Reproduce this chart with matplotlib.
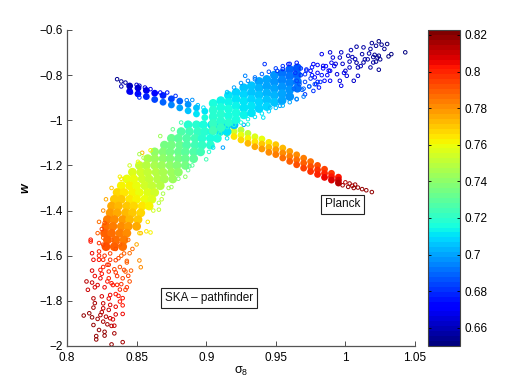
import matplotlib
matplotlib.use("Agg")
import matplotlib.pyplot as plt
import matplotlib.cm as cm
import matplotlib.colors as mcolors

plt.rcParams['font.family'] = ['Liberation Sans', 'DejaVu Sans']

x_ticks = [0.8, 0.85, 0.9, 0.95, 1, 1.05]
x_labels = ['0.8', '0.85', '0.9', '0.95', '1', '1.05']
y_ticks = [-0.6, -0.8, -1, -1.2, -1.4, -1.6, -1.8, -2]
y_labels = ['\u22120.6', '\u22120.8', '\u22121', '\u22121.2', '\u22121.4', '\u22121.6', '\u22121.8', '\u22122']
cb_ticks = [0.66, 0.68, 0.7, 0.72, 0.74, 0.76, 0.78, 0.8, 0.82]
cb_labels = ['0.66', '0.68', '0.7', '0.72', '0.74', '0.76', '0.78', '0.8', '0.82']

# Planck branch: dense part
planck_core_s = [.845,.845,.851,.851,.857,.857,.863,.863,.869,.869,.875,.875,.881,.881,.887,.887,.893,.893,.899,.899,.905,.905,
    .91,.91,.91,.915,.915,.915,.92,.92,.92,.925,.925,.925,.93,.93,.93,.935,.935,.935,.94,.94,.94,.945,.945,.945,
    .95,.95,.95,.955,.955,.955,.96,.96,.96,.965,.965,.965,.97,.97,.97,.975,.975,.975,.98,.98,.98,
    .985,.985,.985,.99,.99,.99,.995,.995,.995]
planck_core_w = [-.848,-.872,-.857,-.883,-.868,-.895,-.88,-.908,-.89,-.92,-.905,-.932,-.915,-.945,-.93,-.958,-.945,-.972,-.96,-.988,-.975,-1.0,
    -1.0,-1.02,-1.04,-1.013,-1.035,-1.057,-1.028,-1.05,-1.072,-1.043,-1.065,-1.087,-1.058,-1.08,-1.102,-1.073,-1.095,-1.117,-1.083,-1.105,-1.127,-1.098,-1.12,-1.142,
    -1.108,-1.13,-1.152,-1.123,-1.145,-1.167,-1.138,-1.16,-1.182,-1.153,-1.175,-1.197,-1.168,-1.19,-1.212,-1.183,-1.205,-1.227,-1.2,-1.22,-1.24,
    -1.217,-1.235,-1.253,-1.235,-1.25,-1.265,-1.252,-1.265,-1.278]
planck_core_om = [.662,.668,.665,.672,.668,.678,.672,.684,.678,.690,.684,.695,.690,.700,.697,.704,.704,.710,.710,.716,.716,.722,
    .735,.74,.75,.742,.752,.762,.745,.755,.765,.748,.758,.768,.752,.762,.772,.756,.766,.775,.76,.77,.778,.765,.773,.781,
    .77,.777,.784,.773,.78,.786,.777,.783,.789,.78,.786,.792,.784,.789,.795,.787,.793,.798,.791,.796,.801,
    .795,.80,.805,.798,.803,.808,.803,.808,.812]

# Planck branch: loose points
planck_s = [.836,.839,.842,.839,.845,.845,.85,.852,.856,.846,.851,.852,.86,.867,.872,.878,.886,.89,.894,.898,
    1.0,1.003,1.005,1.002,1.007,1.009,1.012,1.015,1.019,1.006,.998]
planck_w = [-.818,-.828,-.833,-.85,-.845,-.855,-.843,-.847,-.855,-.877,-.884,-.899,-.862,-.877,-.877,-.892,-.911,-.91,-.933,-.944,
    -1.275,-1.28,-1.29,-1.295,-1.285,-1.298,-1.305,-1.31,-1.318,-1.3,-1.288]
planck_om = [.655,.655,.658,.66,.66,.66,.662,.662,.664,.672,.675,.68,.668,.672,.675,.682,.695,.698,.705,.71,
    .814,.815,.817,.818,.817,.82,.82,.82,.82,.82,.816]

# SKA pathfinder, lower arm: dense part
low_core_s = [.887,.893,.898,.904,.909,.915,.920,
    .882,.888,.894,.899,.904,.910,.915,
    .875,.880,.886,.892,.897,.903,.908,
    .870,.875,.881,.886,.892,.897,.903,
    .863,.869,.874,.880,.885,.891,.896,
    .858,.863,.869,.874,.880,.885,.891,
    .852,.857,.863,.868,.874,.879,.885,
    .847,.853,.858,.864,.869,.875,.880,
    .843,.848,.854,.859,.865,.870,.876,
    .839,.845,.850,.856,.861,.867,
    .836,.841,.847,.852,.858,.863,
    .834,.839,.845,.850,.856,.861,
    .832,.837,.843,.848,.854,.859,
    .831,.836,.842,.847,.853,
    .829,.834,.840,.845,.851,
    .828,.833,.839,.844,.850,
    .827,.832,.838,.843,
    .829,.835,.841,
    .828,.834,.84]
low_core_w = ([-1.02]*7 + [-1.05]*7 + [-1.08]*7 + [-1.11]*7 + [-1.14]*7 + [-1.17]*7 + [-1.20]*7 + [-1.23]*7 + [-1.26]*7
    + [-1.29]*6 + [-1.32]*6 + [-1.35]*6 + [-1.38]*6 + [-1.41]*5 + [-1.44]*5 + [-1.47]*5 + [-1.50]*4 + [-1.53]*3 + [-1.56]*3)
low_core_om = [.720,.718,.715,.712,.709,.706,.704,
    .726,.724,.721,.718,.715,.712,.710,
    .731,.729,.726,.723,.720,.717,.715,
    .736,.734,.731,.728,.725,.722,.720,
    .741,.739,.736,.733,.730,.727,.725,
    .746,.744,.741,.738,.735,.732,.730,
    .751,.749,.746,.743,.740,.737,.735,
    .756,.754,.751,.748,.745,.742,.740,
    .760,.758,.755,.752,.749,.746,.744,
    .763,.761,.758,.755,.752,.749,
    .767,.765,.762,.759,.756,.753,
    .771,.769,.766,.763,.760,.757,
    .775,.773,.770,.767,.764,.761,
    .779,.776,.773,.770,.767,
    .783,.780,.777,.774,.771,
    .787,.784,.781,.778,.775,
    .790,.787,.784,.781,
    .79,.787,.784,
    .793,.79,.787]

# SKA pathfinder, lower arm: loose points
low_s = [.812,.816,.818,.819,.821,.821,.823,.824,.826,.827,.827,.829,.832,.834,.832,.84,.831,.833,.819,.826,.826,.831,.835,.838,.84,.84,.837,.831,.819,
    .815,.82,.814,.818,.824,.829,.832,.836,.839,.842,.845,.844,.846,.841,.835,.83,.824,.818,.829,.819,.823,.818,.826,.831,.837,.843,.852,.853,.845,.823,
    .817,.817,.823,.826,.825,.827,.852,.857,.86,.866,.866,.869,.90,.888,.887,.88,.875,.912,.905,.854,.86,.867,.876,.839,.851,.855,.882,
    .826,.829,.832,.835,.838,.841,.844,.847,.823,.827,.831,.835,.839,.843,.826,.83,.834,.838,.842,.82,.825,.83,.836,.84,.822,.827,.833,.838,.843,.825,.83,.835,.84,.82,.825,.83,.835,.822,.828,.834,
    .852,.845,.838,.832,.828,.826,.823,.822,
    .927,.915,.902,.89,.885,.873,.868,.862,.858,.853,.85]
low_w = [-1.865,-1.855,-1.873,-1.907,-1.956,-1.971,-1.929,-1.863,-1.892,-1.937,-1.954,-1.904,-1.911,-1.944,-1.993,-1.983,-1.877,-1.882,-1.83,-1.811,-1.833,-1.818,-1.826,-1.803,-1.858,-1.788,-1.778,-1.774,-1.789,
    -1.751,-1.74,-1.714,-1.719,-1.70,-1.714,-1.722,-1.729,-1.726,-1.751,-1.714,-1.689,-1.666,-1.663,-1.674,-1.67,-1.663,-1.666,-1.64,-1.618,-1.618,-1.589,-1.618,-1.618,-1.611,-1.623,-1.621,-1.651,-1.589,-1.581,
    -1.529,-1.537,-1.544,-1.551,-1.482,-1.455,-1.50,-1.492,-1.497,-1.396,-1.366,-1.325,-1.173,-1.203,-1.221,-1.259,-1.296,-1.121,-1.121,-1.144,-1.133,-1.07,-1.04,-1.259,-1.184,-1.166,-1.01,
    -1.52,-1.56,-1.53,-1.57,-1.55,-1.59,-1.53,-1.57,-1.6,-1.6,-1.59,-1.62,-1.6,-1.63,-1.65,-1.64,-1.66,-1.65,-1.67,-1.69,-1.68,-1.70,-1.69,-1.7,-1.73,-1.74,-1.73,-1.75,-1.74,-1.78,-1.79,-1.77,-1.82,-1.81,-1.85,-1.84,-1.86,-1.88,-1.87,-1.91,
    -1.15,-1.2,-1.25,-1.3,-1.35,-1.4,-1.45,-1.5,
    -1.02,-1.08,-1.14,-1.2,-1.25,-1.3,-1.35,-1.4,-1.45,-1.5,-1.55]
low_om = [.82,.82,.82,.82,.82,.82,.82,.815,.815,.82,.82,.815,.812,.815,.82,.815,.81,.808,.815,.81,.81,.808,.805,.803,.805,.802,.803,.805,.812,
    .81,.808,.812,.81,.805,.802,.802,.80,.798,.795,.792,.795,.79,.795,.798,.80,.803,.808,.80,.806,.803,.805,.80,.797,.795,.79,.78,.782,.785,.80,
    .803,.803,.798,.795,.795,.793,.768,.765,.762,.75,.748,.745,.725,.73,.732,.738,.742,.70,.71,.772,.762,.742,.732,.765,.758,.748,.725,
    .79,.793,.79,.793,.79,.79,.785,.785,.80,.798,.795,.795,.79,.788,.80,.798,.795,.793,.79,.805,.803,.80,.797,.795,.808,.805,.802,.80,.797,.808,.805,.803,.803,.815,.812,.81,.808,.815,.812,.81,
    .745,.755,.762,.77,.775,.78,.785,.79,
    .70,.71,.72,.73,.74,.745,.75,.755,.765,.77,.775]

# SKA pathfinder, upper arm: dense part
up_core_s = [.905]*5 + [.9105]*5 + [.916]*5 + [.9215]*5 + [.927]*5 + [.9325]*5 + [.938]*5 + [.9435]*5 + [.949]*5 + [.9545]*5 + [.96]*5 + [.9655]*4
up_core_w = [-.925,-.955,-.985,-1.015,-1.045,
    -.913,-.943,-.973,-1.003,-1.033,
    -.89,-.92,-.95,-.98,-1.01,
    -.877,-.907,-.937,-.967,-.997,
    -.856,-.886,-.916,-.946,-.976,
    -.847,-.877,-.907,-.937,-.967,
    -.828,-.858,-.888,-.918,-.948,
    -.819,-.849,-.879,-.909,-.939,
    -.80,-.83,-.86,-.89,-.92,
    -.792,-.822,-.852,-.882,-.912,
    -.775,-.805,-.835,-.865,-.895,
    -.768,-.798,-.828,-.858]
up_core_om = [.716,.718,.720,.722,.724,
    .714,.716,.718,.720,.722,
    .711,.713,.715,.717,.719,
    .709,.711,.713,.715,.717,
    .706,.708,.710,.712,.714,
    .704,.706,.708,.710,.712,
    .701,.703,.705,.707,.709,
    .699,.701,.703,.705,.707,
    .696,.698,.700,.702,.704,
    .693,.695,.697,.699,.701,
    .690,.692,.694,.696,.698,
    .687,.689,.691,.693]

# SKA pathfinder, upper arm: loose points
up_s = [1.043,1.024,1.03,1.019,1.026,1.022,1.028,1.033,1.031,1.024,1.023,1.018,1.013,1.008,1.004,.997,.989,.983,.991,.996,1.002,1.007,1.012,1.017,1.02,1.024,1.018,1.013,1.009,1.009,
    1.006,1.003,1.0,1.001,.996,.997,.994,.989,.985,.989,.981,.984,.977,.975,.978,.977,.971,.965,.959,.955,.951,.942,.928,.935,.953,.946,.941,.93,.965,.971,
    .964,.968,.972,.976,.98,.984,.988,.992,.967,.971,.975,.979,.983,.963,.969,.974,.98,.987,.993,.998,1.003,1.008,1.014,1.02,.999,1.005,1.011,1.016,1.021,1.025,1.022,
    .915,.92,.925,.93,.935,.94,.945,.95,.955,.96,.965,
    .91,.915,.92,.925,.93,.935,.94,.945,.95,.955,.96,.965,.97,
    .968,.972,.976,.98,.97,.974,.978,.982,.986,.99]
up_w = [-.699,-.65,-.662,-.658,-.665,-.67,-.684,-.707,-.717,-.714,-.722,-.684,-.677,-.674,-.689,-.699,-.699,-.707,-.722,-.722,-.714,-.729,-.707,-.704,-.744,-.776,-.766,-.744,-.766,-.803,
    -.825,-.766,-.781,-.803,-.825,-.847,-.796,-.781,-.825,-.825,-.855,-.759,-.751,-.781,-.81,-.87,-.885,-.907,-.751,-.773,-.781,-.751,-.803,-.818,-.936,-.944,-.988,-1.018,-.825,-.796,
    -.79,-.80,-.78,-.80,-.79,-.77,-.78,-.76,-.84,-.83,-.815,-.84,-.80,-.86,-.865,-.85,-.83,-.80,-.75,-.75,-.74,-.745,-.73,-.72,-.79,-.72,-.76,-.73,-.71,-.73,-.74,
    -.875,-.855,-.835,-.825,-.81,-.795,-.785,-.77,-.76,-.75,-.745,
    -1.06,-1.03,-1.02,-1.01,-.995,-.985,-.97,-.96,-.945,-.935,-.92,-.905,-.895,
    -.77,-.775,-.765,-.755,-.86,-.85,-.84,-.83,-.76,-.745]
up_om = [.652,.652,.652,.654,.653,.654,.653,.652,.652,.654,.655,.656,.657,.658,.66,.662,.665,.668,.664,.663,.66,.659,.658,.656,.656,.655,.657,.658,.66,.662,
    .663,.662,.663,.664,.666,.668,.666,.668,.672,.671,.676,.668,.671,.674,.674,.68,.682,.688,.676,.678,.681,.68,.695,.695,.70,.705,.712,.72,.684,.68,
    .682,.68,.678,.676,.674,.673,.670,.668,.686,.684,.682,.678,.675,.69,.688,.683,.678,.672,.664,.662,.66,.658,.656,.654,.668,.66,.66,.656,.654,.654,.655,
    .705,.70,.698,.695,.692,.69,.686,.683,.68,.678,.675,
    .722,.72,.718,.716,.714,.712,.71,.708,.706,.703,.70,.698,.695,
    .68,.678,.675,.672,.69,.688,.684,.68,.67,.667]

jet = plt.get_cmap('jet', 64)
om_min, om_max = 0.65, 0.8227
norm = mcolors.Normalize(om_min, om_max)
filled = dict(marker='o', edgecolors='none', cmap=jet, norm=norm)
hollow = dict(marker='o', s=6.5, facecolors='none', linewidths=0.7)

W, H = 518, 390
fig = plt.figure(figsize=(W/100, H/100), dpi=100)
ax = fig.add_axes([67/W, 1-346/H, 348/W, 316/H])
cax = fig.add_axes([428/W, 1-346/H, 32/W, 316/H])

ax.scatter(planck_core_s, planck_core_w, c=planck_core_om, s=24, **filled)
ax.scatter(planck_s, planck_w, edgecolors=jet(norm(planck_om)), **hollow)
ax.scatter(low_core_s, low_core_w, c=low_core_om, s=40, **filled)
ax.scatter(low_s, low_w, edgecolors=jet(norm(low_om)), **hollow)
ax.scatter(up_core_s, up_core_w, c=up_core_om, s=40, **filled)
ax.scatter(up_s, up_w, edgecolors=jet(norm(up_om)), **hollow)

ax.set_xlim(0.8, 1.05)
ax.set_ylim(-2, -0.6)
ax.set_xticks(x_ticks, x_labels)
ax.set_yticks(y_ticks, y_labels)
ax.spines['top'].set_visible(False)
ax.spines['right'].set_visible(False)
for s in ('left', 'bottom'):
    ax.spines[s].set_color('#555555')
    ax.spines[s].set_linewidth(0.9)
ax.tick_params(direction='in', length=3.5, width=0.6, color='#333333', labelsize=8.5, pad=3)
ax.tick_params(axis='x', pad=4)
ax.set_xlabel('$\\mathregular{\\sigma_8}$', fontsize=9, labelpad=1)
ax.set_ylabel('w', fontsize=9, fontweight='bold', style='italic', labelpad=6)

box = dict(boxstyle='square,pad=0.32', facecolor='white', edgecolor='#222222', linewidth=0.8)
ax.text(0.902, -1.787, 'SKA \u2013 pathfinder', fontsize=8.5, ha='center', va='center', bbox=box, color='#111111')
ax.text(0.998, -1.373, 'Planck', fontsize=8.5, ha='center', va='center', bbox=box, color='#111111')

cb = fig.colorbar(cm.ScalarMappable(norm=norm, cmap=jet), cax=cax)
cb.set_ticks(cb_ticks, labels=cb_labels)
cb.ax.tick_params(direction='in', length=2.5, width=0.6, labelsize=8.5, pad=3, right=True, left=True)
cb.outline.set_edgecolor('#444444')
cb.outline.set_linewidth(0.8)

fig.savefig('out.png', dpi=100)
